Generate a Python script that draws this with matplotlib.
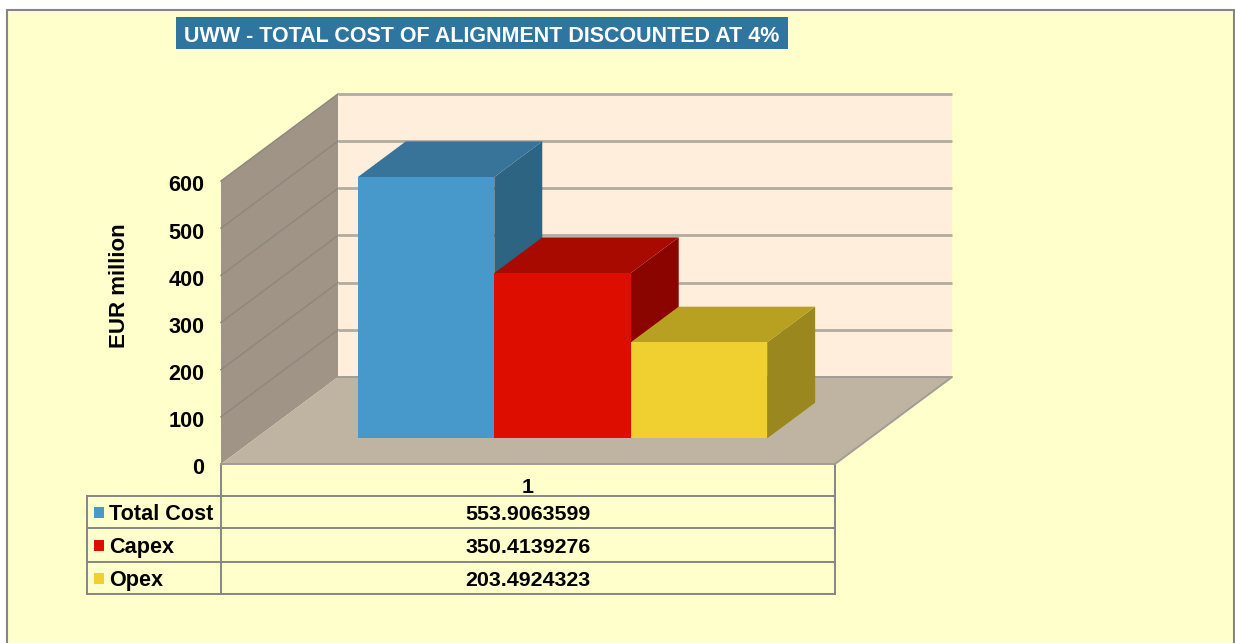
import matplotlib
matplotlib.use("Agg")
import matplotlib.pyplot as plt
from matplotlib.patches import Rectangle
from matplotlib.transforms import ScaledTranslation

plt.rcParams["font.family"] = ["Liberation Sans", "DejaVu Sans"]
plt.rcParams["font.weight"] = "bold"

# Data
series = ["Total Cost", "Capex", "Opex"]
values = [553.9063599, 350.4139276, 203.4924323]
value_labels = ["553.9063599", "350.4139276", "203.4924323"]
categories = ["1"]
y_ticks = [0, 100, 200, 300, 400, 500, 600]

# Colours: front, top, side
front_cols = ["#4899CB", "#DD0E00", "#F0D030"]
top_cols = ["#38749A", "#A80A00", "#B8A020"]
side_cols = ["#2D6482", "#8B0500", "#9A871E"]

W, H = 1235, 643
BG = "#FFFFCC"
GREY = "#858585"

fig = plt.figure(figsize=(W / 100, H / 100), dpi=100, facecolor="white")

# Overlay in pixels for frame, title box and table grid
bg = fig.add_axes([0, 0, 1, 1])
bg.set_xlim(0, W)
bg.set_ylim(H, 0)
bg.axis("off")
bg.add_patch(Rectangle((7, 10), 1227, 660, fc=BG, ec=GREY, lw=1.5))
bg.add_patch(Rectangle((176, 17), 612, 32, fc="#2E75A0", ec="none"))
bg.text(482, 33.5, "UWW - TOTAL COST OF ALIGNMENT DISCOUNTED AT 4%", color="white",
        fontsize=15.5, va="center_baseline", ha="center")

# Plot axes, x in category units, y in EUR million
left, right, bottom, top = 221, 953, 464, 93
ax = fig.add_axes([left / W, 1 - bottom / H, (right - left) / W, (bottom - top) / H])
ax.patch.set_alpha(0)
px_per_x = 614
px_per_v = 0.4717
ax.set_xlim(0, (right - left) / px_per_x)
ax.set_ylim(0, (bottom - top) / px_per_v)
for s in ax.spines.values():
    s.set_visible(False)

depth_x = 117 / px_per_x
depth_v = 87 / px_per_v


def pt(x, d, v):
    return x + d * depth_x, v + d * depth_v


def poly(corners, **kw):
    xs, ys = zip(*[pt(*c) for c in corners])
    ax.fill(xs, ys, clip_on=False, **kw)


ymax = y_ticks[-1]
# walls
poly([(0, 1, 0), (1, 1, 0), (1, 1, ymax), (0, 1, ymax)], fc="#FFEEDB", ec="none", zorder=1)
poly([(0, 0, 0), (0, 1, 0), (0, 1, ymax), (0, 0, ymax)], fc="#A09486", ec="none", zorder=1)
poly([(0, 0, 0), (1, 0, 0), (1, 1, 0), (0, 1, 0)], fc="#BFB3A2", ec="none", zorder=1)

for t in y_ticks:
    xs, ys = zip(pt(0, 0, t), pt(0, 1, t), pt(1, 1, t))
    if t == 0:
        ax.plot(*zip(pt(0, 0, 0), pt(1, 0, 0), pt(1, 1, 0), pt(0, 1, 0)), color="#A39C94",
                lw=1.4, clip_on=False, zorder=2)
    else:
        ax.plot(xs[:2], ys[:2], color="#8F887F", lw=1.1, clip_on=False, zorder=2)
        ax.plot(xs[1:], ys[1:], color="#B3ABA0", lw=2.0, clip_on=False, solid_capstyle="butt", zorder=2)

# bars
bar_w = 1 / 4.5
d0, d1 = 0.295, 0.705
for i, v in enumerate(values):
    x0 = 0.75 * bar_w + i * bar_w
    x1 = x0 + bar_w
    z = 3 + i
    poly([(x1, d0, 0), (x1, d1, 0), (x1, d1, v), (x1, d0, v)], fc=side_cols[i], ec="none", zorder=z)
    poly([(x0, d0, v), (x1, d0, v), (x1, d1, v), (x0, d1, v)], fc=top_cols[i], ec="none", zorder=z)
    poly([(x0, d0, 0), (x1, d0, 0), (x1, d0, v), (x0, d0, v)], fc=front_cols[i], ec="none", zorder=z)

# axes labels
ax.set_yticks(y_ticks)
ax.set_xticks([0.5])
ax.set_xticklabels(categories)
ax.tick_params(axis="y", length=0, pad=12, labelsize=15.6)
ax.tick_params(axis="x", length=0, pad=10, labelsize=15.4)
shift = ScaledTranslation(0, -2.5 / 100, fig.dpi_scale_trans)
for lab in ax.get_yticklabels():
    lab.set_transform(lab.get_transform() + shift)
ax.set_ylabel("EUR million", fontsize=16, fontweight="bold")
ax.yaxis.set_label_coords(-(221 - 130) / (right - left), (bottom - 286) / (bottom - top))

# data table
rows = [496, 528, 562, 594]
bg.plot([221, 221], [464, rows[-1]], color=GREY, lw=1.4)
bg.plot([835, 835], [464, rows[-1]], color=GREY, lw=1.4)
bg.plot([87, 87], [rows[0], rows[-1]], color=GREY, lw=1.4)
for r in rows:
    bg.plot([87, 835], [r, r], color=GREY, lw=1.4)
for i, name in enumerate(series):
    cy = (rows[i] + rows[i + 1]) / 2
    bg.add_patch(Rectangle((94, cy - 5.5), 10, 11, fc=front_cols[i], ec="none"))
    bg.text(109, cy + 2.5, name, fontsize=15.6, va="center", ha="left")
    bg.text(528, cy + 2.5, value_labels[i], fontsize=15.4, va="center", ha="center")

fig.savefig("out.png", dpi=100, facecolor="white")
